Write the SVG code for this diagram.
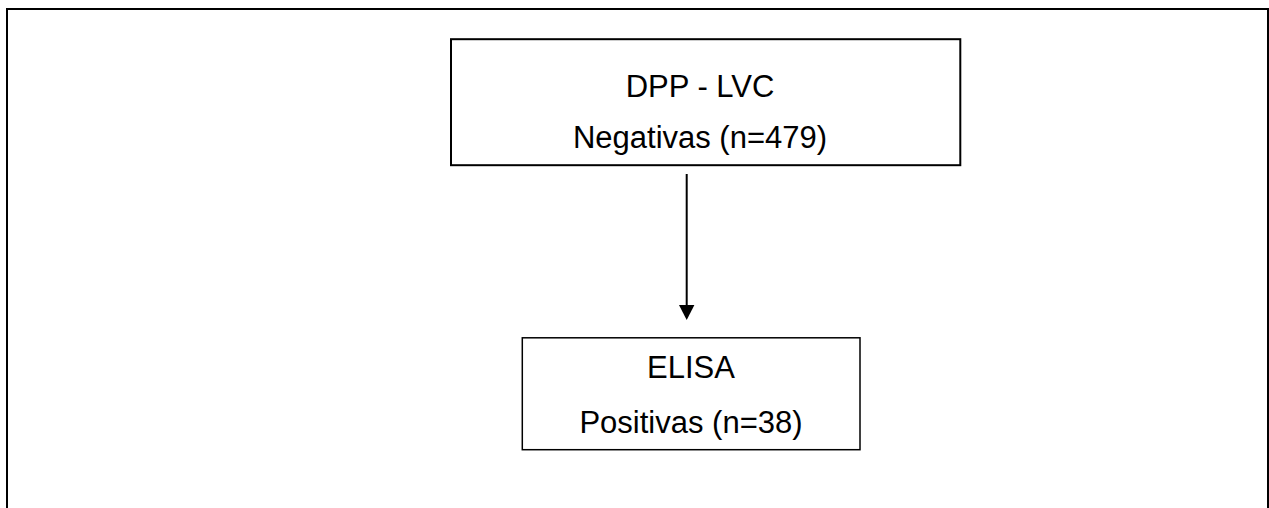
<svg xmlns="http://www.w3.org/2000/svg" width="1269" height="508" viewBox="0 0 1269 508">
  <style>
    .t { font-family: "Liberation Sans", Arial, sans-serif; font-size: 31px; fill: #000; text-anchor: middle; }
    .box { fill: #fff; stroke: #000; }
  </style>
  <defs>
    <marker id="ah" markerWidth="16" markerHeight="15" refX="7.7" refY="15" orient="auto-start-reverse" markerUnits="userSpaceOnUse" viewBox="0 0 15.4 15">
      <path d="M0,0 L15.4,0 L7.7,15 Z" fill="#000"/>
    </marker>
  </defs>
  <rect x="0" y="0" width="1269" height="508" fill="#fff"/>
  <path d="M7,508 V9 H1268 V508" fill="none" stroke="#000" stroke-width="2"/>
  <g id="connectors">
    <line x1="686.7" y1="174" x2="686.7" y2="306" stroke="#000" stroke-width="2"/>
    <polygon points="679,305 694.4,305 686.7,320" fill="#000"/>
  </g>
  <g id="node-dpp">
    <rect class="box" x="451" y="39.2" width="509.3" height="126" stroke-width="2"/>
    <text class="t" x="700" y="97">DPP - LVC</text>
    <text class="t" x="700" y="148.3">Negativas (n=479)</text>
  </g>
  <g id="node-elisa">
    <rect class="box" x="522.3" y="337.8" width="337.7" height="111.9" stroke-width="1.5"/>
    <text class="t" x="691" y="378.3">ELISA</text>
    <text class="t" x="691" y="433.3">Positivas (n=38)</text>
  </g>
</svg>
